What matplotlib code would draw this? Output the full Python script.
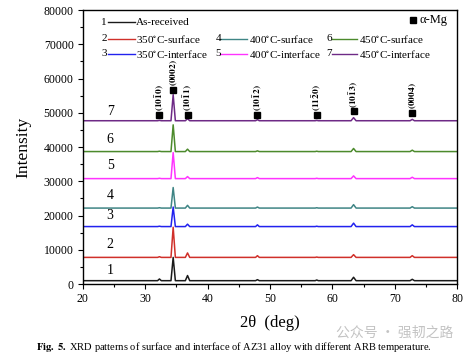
import numpy as np
import matplotlib.pyplot as plt
from matplotlib.ticker import MultipleLocator

plt.rcParams['font.family'] = ['Liberation Serif', 'DejaVu Serif']
plt.rcParams['mathtext.fontset'] = 'stix'

# peak positions (2theta) and per-pattern data
peak_pos = [32.3, 34.5, 36.8, 48.0, 57.5, 63.4, 72.8]
peak_halfwidth = [0.3, 0.35, 0.35, 0.3, 0.25, 0.4, 0.35]

names = ['As-received', '350$^{\\circ}$C-surface', '350$^{\\circ}$C-interface',
         '400$^{\\circ}$C-surface', '400$^{\\circ}$C-interface',
         '450$^{\\circ}$C-surface', '450$^{\\circ}$C-interface']
colors = ['#1a1a1a', '#d0302a', '#2222ee', '#3f8585', '#ff33ff', '#4c8a2c', '#6e2a86']
baselines = [1000, 7800, 16800, 22200, 30800, 38700, 47700]
heights = [
    [500, 6800, 1500, 300, 200, 1000, 400],
    [200, 8800, 1300, 500, 100, 800, 500],
    [100, 5700, 700, 500, 100, 1000, 500],
    [100, 6000, 800, 300, 100, 1000, 400],
    [100, 7600, 600, 300, 100, 800, 400],
    [100, 7800, 700, 200, 100, 900, 400],
    [100, 7600, 600, 300, 100, 900, 400],
]
label_y = [4100, 11700, 19900, 25800, 34600, 42100, 50400]

hkl = [r'$\mathbf{(10\bar{1}0)}$', r'$\mathbf{(0002)}$', r'$\mathbf{(10\bar{1}1)}$',
       r'$\mathbf{(10\bar{1}2)}$', r'$\mathbf{(11\bar{2}0)}$', r'$\mathbf{(10\bar{1}3)}$',
       r'$\mathbf{(0004)}$']
hkl_y = [49400, 56700, 49400, 49300, 49300, 50400, 50000]

fig = plt.figure(figsize=(4.67, 3.61), dpi=100)
ax = fig.add_axes([0.177, 0.213, 0.802, 0.759])

for i in range(7):
    xs = [20]
    ys = [baselines[i]]
    for p, w, h in zip(peak_pos, peak_halfwidth, heights[i]):
        xs += [p - w, p, p + w]
        ys += [baselines[i], baselines[i] + h, baselines[i]]
    xs.append(80)
    ys.append(baselines[i])
    ax.plot(xs, ys, color=colors[i], lw=1.1)
    ax.text(24.4, label_y[i], str(i + 1), fontsize=10, ha='center', va='center')

for x, y, t in zip(peak_pos, hkl_y, hkl):
    ax.plot(x, y, 's', color='black', ms=3.8)
    ax.text(x, y + 1100, t, rotation=90, ha='center', va='bottom', fontsize=6.8)

# legend drawn by hand
col_x = [(23.0, 24.0, 28.4, 28.6), (41.3, 42.0, 46.3, 46.6), (59.1, 60.0, 64.0, 64.2)]
rows = [[0, None, None], [1, 3, 5], [2, 4, 6]]
row_y = [76400, 71600, 67300]
for r, row in enumerate(rows):
    for c, idx in enumerate(row):
        if idx is None:
            continue
        nx, x0, x1, tx = col_x[c]
        ax.text(nx, row_y[r], str(idx + 1), fontsize=8, ha='left', va='center')
        ax.plot([x0, x1], [row_y[r]] * 2, color=colors[idx], lw=1)
        ax.text(tx, row_y[r], names[idx], fontsize=8, ha='left', va='center')
ax.plot(73.0, 77200, 's', color='black', ms=3.8)
ax.text(74.0, 77200, 'α-Mg', fontsize=9, ha='left', va='center')

ax.set_xlim(20, 80)
ax.set_ylim(0, 80000)
ax.xaxis.set_major_locator(MultipleLocator(10))
ax.xaxis.set_minor_locator(MultipleLocator(5))
ax.yaxis.set_major_locator(MultipleLocator(10000))
ax.yaxis.set_minor_locator(MultipleLocator(5000))
ax.tick_params(which='both', direction='out', labelsize=8.5)
ax.tick_params(which='major', length=3.5, width=0.8, pad=3)
ax.tick_params(which='minor', length=2, width=0.8)
for s in ax.spines.values():
    s.set_linewidth(1.0)
ax.set_ylabel('Intensity', fontsize=12.5, labelpad=9)
ax.set_xlabel('2θ  (deg)', fontsize=12, labelpad=7)

fig.text(0.5, 0.038, r'$\mathbf{Fig.\ 5.}$ XRD patterns of surface and interface of AZ31 alloy with different ARB temperature.',
         ha='center', va='center', fontsize=7.6)
fig.text(0.845, 0.078, '公众号 · 强韧之路', ha='center', va='center', fontsize=10,
         color='#aaaaaa', alpha=0.7, family=['Noto Sans CJK SC', 'DejaVu Sans'])

fig.savefig('out.png', dpi=100)
